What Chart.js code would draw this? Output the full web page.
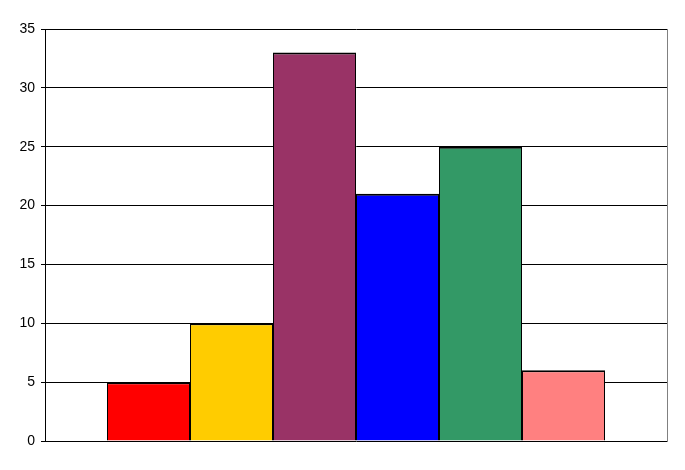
<!DOCTYPE html>
<html>
<head>
<meta charset="utf-8">
<script src="https://cdn.jsdelivr.net/npm/chart.js@4/dist/chart.umd.min.js"></script>
<style>
  html, body { margin: 0; padding: 0; background: #fff; }
  #wrap { width: 685px; height: 470px; }
</style>
</head>
<body>
<div id="wrap"><canvas id="chart"></canvas></div>
<script>
// chart data
const categories = [''];
const seriesNames = ['A', 'B', 'C', 'D', 'E', 'F'];
const seriesValues = [5, 10, 33, 21, 25, 6];
const seriesColors = ['#FF0000', '#FFCC00', '#993366', '#0000FF', '#339966', '#FF8080'];
const yTicks = [0, 5, 10, 15, 20, 25, 30, 35];

// right edge of the plot area
const frame = {
  id: 'frame',
  afterDatasetsDraw(chart) {
    const a = chart.chartArea, ctx = chart.ctx;
    ctx.save();
    ctx.strokeStyle = '#808080';
    ctx.lineWidth = 1;
    ctx.beginPath();
    ctx.moveTo(Math.round(a.right) + 0.5, a.top);
    ctx.lineTo(Math.round(a.right) + 0.5, a.bottom + 1);
    ctx.stroke();
    ctx.restore();
  }
};

new Chart(document.getElementById('chart'), {
  type: 'bar',
  data: {
    labels: categories,
    datasets: seriesNames.map((name, i) => ({
      label: name,
      data: [seriesValues[i]],
      backgroundColor: seriesColors[i],
      borderColor: '#000',
      borderWidth: { top: 2, left: 1, right: 1, bottom: 0 },
      inflateAmount: 0
    }))
  },
  options: {
    responsive: true,
    maintainAspectRatio: false,
    animation: false,
    categoryPercentage: 498 / 622,
    barPercentage: 1,
    layout: { padding: { left: 0, top: 29, right: 18, bottom: 29 } },
    plugins: { legend: { display: false }, tooltip: { enabled: false } },
    scales: {
      x: { display: false },
      y: {
        min: 0,
        max: 35,
        afterBuildTicks: s => { s.ticks = yTicks.map(v => ({ value: v })); },
        afterFit: s => { s.width = 45; },
        ticks: {
          color: '#000',
          padding: 6,
          font: { family: 'Liberation Sans, Arial, sans-serif', size: 14 }
        },
        grid: { color: '#000', tickLength: 4 },
        border: { color: '#000' }
      }
    }
  },
  plugins: [frame]
});
</script>
</body>
</html>
